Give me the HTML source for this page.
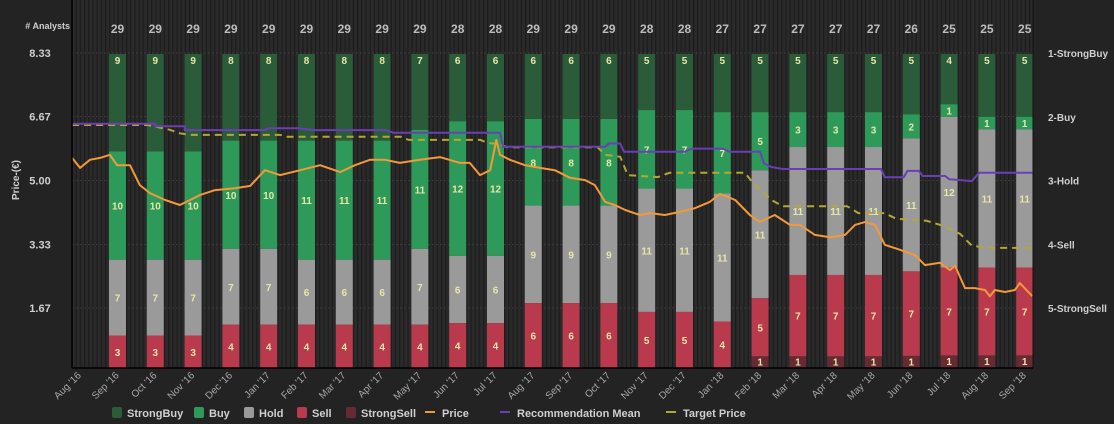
<!DOCTYPE html>
<html><head><meta charset="utf-8"><style>
html,body{margin:0;padding:0;background:#232323;}
svg{display:block;font-family:"Liberation Sans",sans-serif;}
</style></head><body>
<svg id="chart" width="1114" height="424" viewBox="0 0 1114 424">
<defs>
<pattern id="stripes" x="0" y="0" width="4.2" height="10" patternUnits="userSpaceOnUse">
<rect width="4.2" height="10" fill="#2a2a2a"/><rect width="1.2" height="10" fill="#1c1c1c"/>
</pattern>
</defs>
<rect width="1114" height="424" fill="#232323"/>
<rect x="72" y="0" width="961" height="368" fill="url(#stripes)"/>
<g id="grid"></g>
<g id="bars"></g>
<g id="lines"></g>
<g id="axes"></g>
<g id="legend"></g>
</svg>
<script>
const months = ["Aug '16","Sep '16","Oct '16","Nov '16","Dec '16","Jan '17","Feb '17","Mar '17","Apr '17","May '17","Jun '17","Jul '17","Aug '17","Sep '17","Oct '17","Nov '17","Dec '17","Jan '18","Feb '18","Mar '18","Apr '18","May '18","Jun '18","Jul '18","Aug '18","Sep '18"];
const strongBuy = [9,9,9,8,8,8,8,8,7,6,6,6,6,6,5,5,5,5,5,5,5,5,4,5,5];
const buy       = [10,10,10,10,10,11,11,11,11,12,12,8,8,8,7,7,7,5,3,3,3,2,1,1,1];
const hold      = [7,7,7,7,7,6,6,6,7,6,6,9,9,9,11,11,11,11,11,11,11,11,12,11,11];
const sell      = [3,3,3,4,4,4,4,4,4,4,4,6,6,6,5,5,4,5,7,7,7,7,7,7,7];
const strongSell= [0,0,0,0,0,0,0,0,0,0,0,0,0,0,0,0,0,1,1,1,1,1,1,1,1];
const priceTicks = [1.67,3.33,5.00,6.67,8.33];
const ratingTicks = ["1-StrongBuy","2-Buy","3-Hold","4-Sell","5-StrongSell"];
const priceT = [-0.2,0.01,0.27,0.54,0.8,0.99,1.33,1.59,1.86,2.26,2.65,2.92,3.18,3.58,4.11,4.51,4.9,5.3,5.83,6.36,6.89,7.28,7.68,8.08,8.47,9.0,9.53,10.06,10.32,10.59,10.86,11.02,11.12,11.38,11.78,12.18,12.57,12.97,13.37,13.63,13.9,14.16,14.43,14.82,15.09,15.48,15.88,16.28,16.67,16.94,17.34,17.73,17.99,18.39,18.79,19.06,19.45,19.85,20.25,20.51,20.78,21.04,21.3,21.7,22.1,22.36,22.76,23.02,23.16,23.42,23.68,23.95,24.08,24.21,24.48,24.74,24.87,25.2];
const priceV = [5.59,5.33,5.54,5.59,5.67,5.4,5.4,4.88,4.67,4.49,4.36,4.49,4.62,4.75,4.8,4.86,5.27,5.14,5.27,5.4,5.22,5.4,5.54,5.54,5.46,5.54,5.61,5.46,5.46,5.14,5.27,6.06,5.67,5.54,5.4,5.33,5.27,5.07,5.01,4.88,4.44,4.36,4.23,4.1,4.15,4.1,4.18,4.28,4.44,4.65,4.49,4.1,3.92,4.1,3.84,3.84,3.58,3.52,3.58,3.84,3.92,3.84,3.32,3.19,3.05,2.79,2.85,2.66,2.77,2.19,2.19,2.14,1.98,2.14,2.09,2.14,2.32,1.98];
const recT = [-0.2,2.0,2.0,2.78,2.78,4.9,5.0,5.8,6.2,8.08,8.3,11.12,11.2,13.9,14.0,14.3,14.4,16.0,16.2,17.0,17.2,18.0,18.1,18.3,18.6,21.2,21.3,21.8,21.9,22.2,22.3,22.9,23.0,23.6,23.8,25.2];
const recV = [2.11,2.11,2.15,2.15,2.21,2.21,2.18,2.18,2.21,2.21,2.25,2.25,2.47,2.47,2.42,2.42,2.55,2.55,2.5,2.5,2.55,2.55,2.73,2.79,2.82,2.82,2.95,2.95,2.85,2.85,2.93,2.93,2.98,3.01,2.88,2.88];
const targetT = [-0.2,1.8,2.4,2.6,2.9,5.3,5.5,8.5,8.7,10.6,10.8,11.1,11.3,13.7,13.9,14.3,14.5,15.3,15.6,17.6,17.8,18.3,18.6,20.3,20.6,21.3,21.6,22.4,22.9,23.3,23.6,24.0,25.2];
const targetV = [6.45,6.45,6.32,6.24,6.19,6.19,6.14,6.14,6.06,6.06,5.98,5.95,5.87,5.87,5.67,5.62,5.14,5.09,5.2,5.2,4.95,4.49,4.33,4.33,4.15,4.15,4.0,3.95,3.8,3.6,3.3,3.24,3.24];

const NS="http://www.w3.org/2000/svg";
const X0=79.7, DX=37.8, TOP=54, BOT=368;
const xT = t => X0 + t*DX;
const yP = p => 372 - p*38.3;
const yR = r => 53 + (r-1)*63.75;
function mk(tag, attrs, parent, text){
  const e=document.createElementNS(NS,tag);
  for(const k in attrs) e.setAttribute(k, attrs[k]);
  if(text!==undefined) e.textContent=text;
  parent.appendChild(e); return e;
}
const grid=document.getElementById('grid'), bars=document.getElementById('bars'), lines=document.getElementById('lines'), axes=document.getElementById('axes'), legend=document.getElementById('legend');

priceTicks.forEach((p,i)=>{
  const y=yP(p);
  const g=mk('line',{x1:72,x2:1033,y1:y,y2:y,stroke:'#3a3a3a','stroke-width':1,'stroke-dasharray':'2,2'},grid);
  
  
  const t=mk('text',{x:40,y:y+4,fill:'#cfcfcf','font-size':11,'font-weight':'bold','text-anchor':'middle'},axes,p.toFixed(2));
  
  
});
ratingTicks.forEach((r,i)=>{
  const t=mk('text',{x:1048,y:yR(i+1)+4,fill:'#cfcfcf','font-size':10,'font-weight':'bold'},axes,r);
  
  
});

const colors=['#2a5c3a','#2e9a5a','#9a9a9a','#b83a4c','#662a33'];
const series=[strongBuy,buy,hold,sell,strongSell];
for(let i=0;i<strongBuy.length;i++){
  const total=series.reduce((s,a)=>s+a[i],0);
  const cx=xT(i+1);
  let y=TOP;
  series.forEach((arr,k)=>{
    const v=arr[i]; if(!v) return;
    const h=v/total*(BOT-TOP);
    const r=mk('rect',{x:cx-8.5,y:y,width:17,height:h,fill:colors[k]},bars);
    
    
    const ly = k===0 ? y+10 : (k===4 ? y+h/2+3.5 : y+h/2+4);
    const tl=mk('text',{x:cx,y:ly,fill:'#e8e6a6','font-size':10,'font-weight':'bold','text-anchor':'middle'},bars,String(v));
    
    
    y+=h;
  });
  const at=mk('text',{x:cx,y:33,fill:'#bdbdbd','font-size':12,'font-weight':'bold','text-anchor':'middle'},axes,String(total));
  
  
}

function path(ts,vs,yf){ return ts.map((t,i)=>(i?'L':'M')+xT(t).toFixed(1)+','+yf(vs[i]).toFixed(1)).join(''); }
const tp=mk('path',{d:path(targetT,targetV,yP),fill:'none',stroke:'#b5a733','stroke-width':2,'stroke-dasharray':'7,5'},lines);


const rm=mk('path',{d:path(recT,recV,yR),fill:'none',stroke:'#6a3fb5','stroke-width':2},lines);


const pl=mk('path',{d:path(priceT,priceV,yP),fill:'none',stroke:'#f3993a','stroke-width':2,'stroke-linejoin':'round'},lines);



const ax1=mk('line',{x1:72,x2:72,y1:0,y2:368,stroke:'#000','stroke-width':1.5},axes);


const ax2=mk('line',{x1:72,x2:1033,y1:368,y2:368,stroke:'#000','stroke-width':1.5},axes);


const ax3=mk('line',{x1:1033,x2:1033,y1:0,y2:368,stroke:'#111','stroke-width':1},axes);



months.forEach((m,i)=>{
  const x=xT(i)+2, y=376;
  const t=mk('text',{x:x,y:y,fill:'#a8a8a8','font-size':10,'text-anchor':'end',transform:`rotate(-45 ${x} ${y})`},axes,m);
  
  
});
const an=mk('text',{x:70,y:29,fill:'#cfcfcf','font-size':9,'font-weight':'bold','text-anchor':'end'},axes,'# Analysts');


const yt=mk('text',{x:19,y:180,fill:'#cfcfcf','font-size':10,'font-weight':'bold','text-anchor':'middle',transform:'rotate(-90 19 180)'},axes,'Price-(€)');



const legItems=[['StrongBuy',117,'box',colors[0]],['Buy',199,'box',colors[1]],['Hold',249,'box',colors[2]],['Sell',302,'box',colors[3]],['StrongSell',351,'box',colors[4]],['Price',430,'line','#f3993a'],['Recommendation Mean',505,'line','#6a3fb5'],['Target Price',671,'line','#b5a733']];
legItems.forEach(([name,x,kind,c])=>{
  const g=mk('g',{},legend);
  
  
  if(kind==='box') mk('rect',{x:x-5,y:407,width:10,height:11,rx:2,fill:c},g);
  else mk('rect',{x:x-5,y:411,width:10,height:2,fill:c},g);
  mk('text',{x:x+ (kind==='box'?10:12),y:417,fill:'#cfcfcf','font-size':11,'font-weight':'bold'},g,name);
});
</script>
</body></html>
